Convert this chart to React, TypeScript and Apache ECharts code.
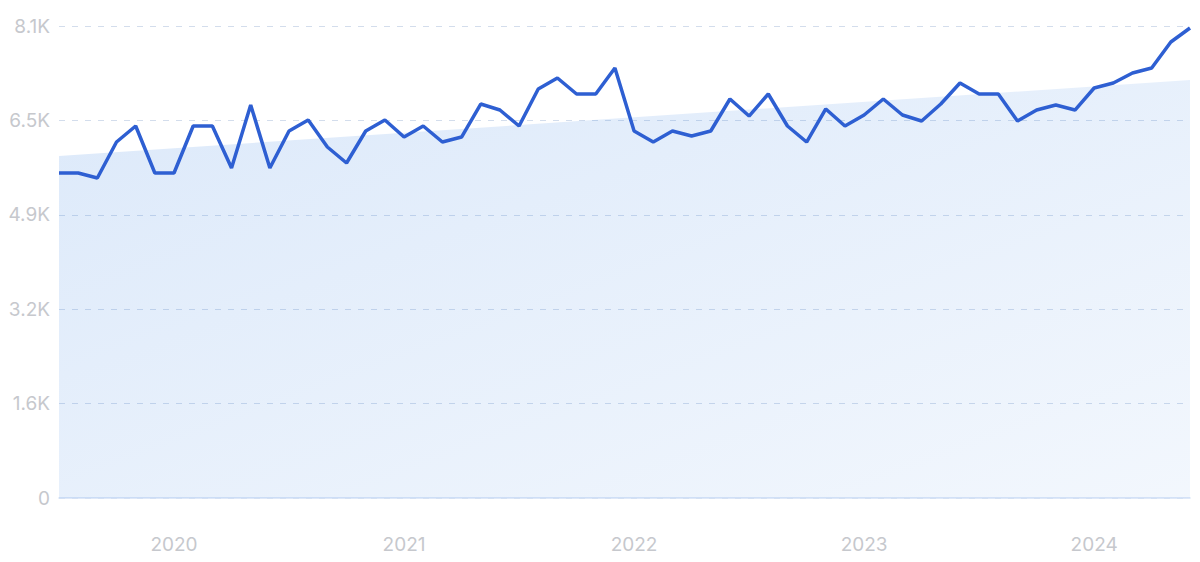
import React, { useEffect, useRef } from "react";
import * as echarts from "echarts";

const months: string[] = (() => {
  const out: string[] = [];
  let y = 2019;
  let m = 7;
  for (let i = 0; i < 60; i++) {
    out.push(`${y}-${String(m).padStart(2, "0")}`);
    m++;
    if (m > 12) {
      m = 1;
      y++;
    }
  }
  return out;
})();

const values: number[] = [
  5577, 5577, 5492, 6109, 6384, 5577, 5577, 6384, 6384, 5663,
  6744, 5663, 6298, 6487, 6023, 5749, 6298, 6487, 6195, 6384,
  6109, 6195, 6761, 6658, 6384, 7019, 7208, 6933, 6933, 7379,
  6298, 6109, 6298, 6212, 6298, 6847, 6555, 6933, 6384, 6109,
  6676, 6384, 6573, 6847, 6573, 6470, 6761, 7122, 6933, 6933,
  6470, 6658, 6744, 6658, 7036, 7122, 7293, 7379, 7825, 8066,
];

const trendStart = 5870;
const trendEnd = 7173;

const yTickLabels = ["0", "1.6K", "3.2K", "4.9K", "6.5K", "8.1K"];
const yMax = 8100;
const yInterval = 1620;

export default function App() {
  const ref = useRef<HTMLDivElement>(null);
  useEffect(() => {
    document.body.style.margin = "0";
    if (!ref.current) return;
    const chart = echarts.init(ref.current, undefined, { renderer: "svg" });
    chart.setOption({
      animation: false,
      backgroundColor: "#ffffff",
      grid: { left: 59, right: 10, top: 26, bottom: 64 },
      xAxis: {
        type: "category",
        data: months,
        boundaryGap: false,
        axisLine: { show: true, lineStyle: { color: "#d3e1f6", width: 1.5 } },
        axisTick: { show: false },
        splitLine: { show: false },
        axisLabel: {
          interval: (idx: number, val: string) => val.endsWith("-01"),
          formatter: (val: string) => val.slice(0, 4),
          color: "#c6c8cd",
          fontSize: 19,
          fontFamily: "Inter",
          margin: 37,
        },
      },
      yAxis: {
        type: "value",
        min: 0,
        max: yMax,
        interval: yInterval,
        axisLine: { show: false },
        axisTick: { show: false },
        splitLine: {
          show: true,
          lineStyle: { color: "#d3ddec", type: [6, 7], width: 1 },
        },
        axisLabel: {
          formatter: (v: number) => yTickLabels[Math.round(v / yInterval)] ?? "",
          color: "#c6c8cd",
          fontSize: 19,
          fontFamily: "Inter",
          margin: 9,
        },
      },
      series: [
        {
          type: "line",
          data: [
            [months[0], trendStart],
            [months[months.length - 1], trendEnd],
          ],
          symbol: "none",
          lineStyle: { width: 0 },
          areaStyle: {
            opacity: 1,
            color: new echarts.graphic.LinearGradient(0, 0, 1, 1, [
              { offset: 0, color: "rgba(61,133,227,0.18)" },
              { offset: 1, color: "rgba(61,133,227,0.065)" },
            ]),
          },
          z: 1,
          silent: true,
        },
        {
          type: "line",
          data: values,
          symbol: "none",
          lineStyle: { color: "#2e5fd2", width: 3.5 },
          z: 3,
        },
      ],
    });
    return () => chart.dispose();
  }, []);
  return <div ref={ref} style={{ width: 1200, height: 562 }} />;
}
